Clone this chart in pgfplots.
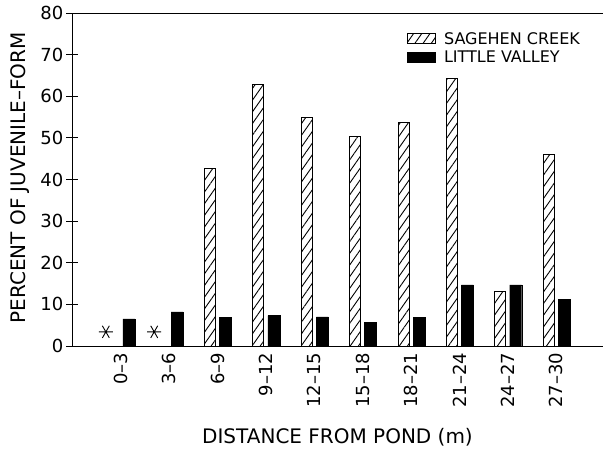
\documentclass[border=0pt]{standalone}
\usepackage{fontspec}
\setmainfont{DejaVu Sans}
\usepackage{pgfplots}
\pgfplotsset{compat=1.18}
\usetikzlibrary{patterns.meta}
\pgfplotsset{rectlegend/.style={legend image code/.code={%
  \draw[##1] (0bp,-5bp) rectangle (28bp,5bp); \path (34bp,0bp);}}}

\begin{document}
\begin{tikzpicture}
\useasboundingbox (-72bp,-103bp) rectangle (531bp,346bp);
\begin{axis}[
  at={(0,0)}, anchor=south west,
  scale only axis, width=531bp, height=333bp,
  xmin=-1.01, xmax=9.97, ymin=0, ymax=80,
  axis x line*=box, axis y line*=left,
  x axis line style={-}, y axis line style={-},
  axis line style={line width=1bp},
  ytick={0,10,...,80},
  tick align=center, major tick length=11bp,
  every tick/.style={line width=1bp, black},
  xtick={0,...,9},
  xticklabels={0--3, 3--6, 6--9, 9--12, 12--15, 15--18, 18--21, 21--24, 24--27, 27--30},
  xtick style={draw=none},
  xticklabel style={rotate=90, anchor=east, inner sep=0pt, xshift=-1bp},
  yticklabel style={anchor=east, inner sep=0pt, xshift=-3bp},
  /pgf/number format/assume math mode=true,
  tick label style={font=\fontsize{18bp}{20bp}\selectfont},
  label style={font=\fontsize{20bp}{22bp}\selectfont},
  xlabel={DISTANCE FROM POND (m)},
  ylabel={PERCENT OF JUVENILE--FORM},
  xlabel style={at={(axis description cs:0.5,-0.273)}, anchor=center},
  ylabel style={at={(axis description cs:-0.097,0.505)}, anchor=center},
  legend style={at={(axis description cs:0.625,0.955)}, anchor=north west,
    draw=none, fill=none, font=\fontsize{16bp}{18bp}\selectfont, row sep=1.5bp},
  legend cell align=left,
  clip=false,
]
\addplot[ybar, bar width=11bp, bar shift=-7.5bp, draw=black, line width=1bp,
  pattern={Lines[angle=55,distance=6.7bp,line width=0.9bp]}, rectlegend]
  coordinates {(2,42.7) (3,62.9) (4,54.9) (5,50.4) (6,53.6) (7,64.3) (8,13.0) (9,46.1)};
\addlegendentry{SAGEHEN CREEK}
\addplot[ybar, bar width=12bp, bar shift=8bp, draw=black, fill=black, rectlegend]
  coordinates {(0,6.5) (1,8.2) (2,6.9) (3,7.3) (4,7.0) (5,5.6) (6,6.9) (7,14.7) (8,14.7) (9,11.2)};
\addlegendentry{LITTLE VALLEY}
\addplot[only marks, mark=asterisk, mark size=7bp, forget plot,
  mark options={rotate=90, line width=0.9bp, black}]
  coordinates {(-0.31,3.4) (0.69,3.4)};
\end{axis}
\end{tikzpicture}
\end{document}
